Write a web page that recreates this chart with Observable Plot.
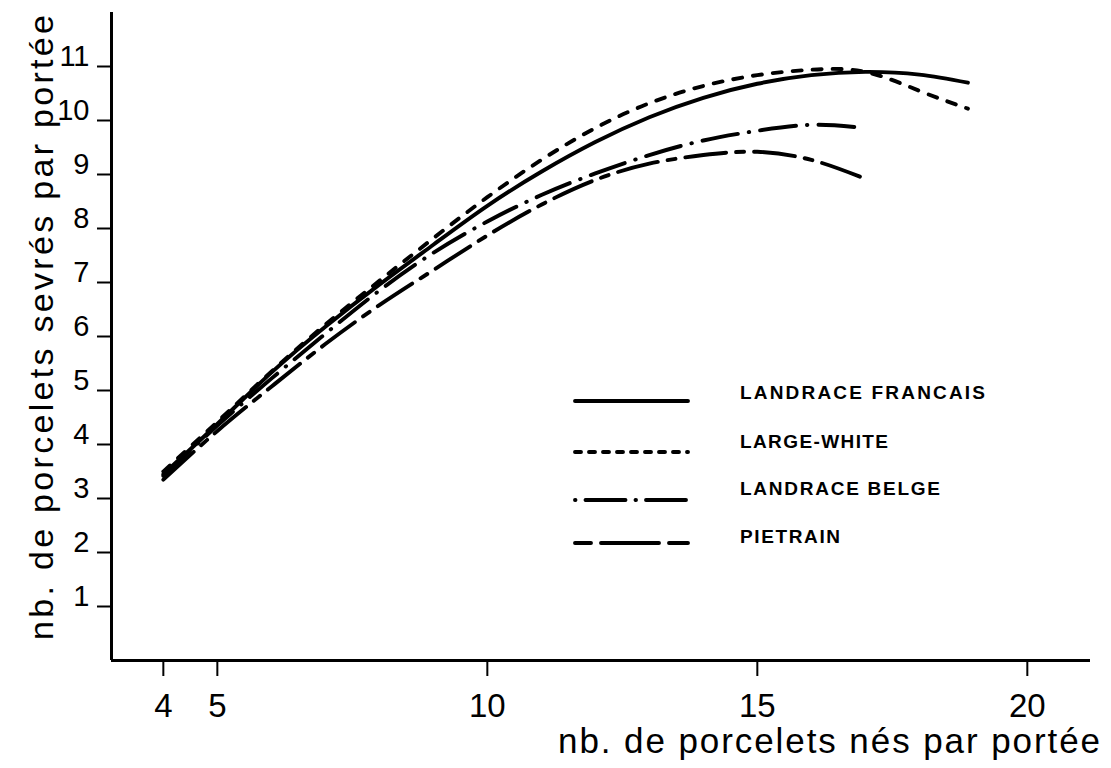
<!DOCTYPE html>
<html><head><meta charset="utf-8">
<script src="https://cdn.jsdelivr.net/npm/d3@7"></script>
<script src="https://cdn.jsdelivr.net/npm/@observablehq/plot@0.6"></script>
<style>
body{margin:0;background:#fff;}
#chart{position:relative;width:1111px;height:768px;}
</style>
</head><body><div id="chart"></div>
<script>
// ---- data ----
const breeds = ["LANDRACE FRANCAIS", "LARGE-WHITE", "LANDRACE BELGE", "PIETRAIN"];

const xLF = [4, 5, 6, 7, 8, 9, 10, 11, 12, 13, 14, 15, 16, 17, 18, 18.9];
const yLF = [3.45, 4.38, 5.33, 6.18, 6.96, 7.70, 8.42, 9.05, 9.60, 10.06, 10.42, 10.68, 10.84, 10.90, 10.85, 10.70];

const xLW = [4, 5, 6, 7, 8, 9, 10, 11, 12, 13, 14, 15, 16, 17, 18, 18.9];
const yLW = [3.50, 4.42, 5.35, 6.22, 7.03, 7.82, 8.58, 9.27, 9.86, 10.32, 10.64, 10.84, 10.94, 10.90, 10.55, 10.22];

const xLB = [4, 5, 6, 7, 8, 9, 10, 11, 12, 13, 14, 15, 16, 16.9];
const yLB = [3.42, 4.35, 5.22, 6.05, 6.85, 7.55, 8.13, 8.62, 9.02, 9.36, 9.63, 9.81, 9.92, 9.87];

const xPI = [4, 5, 6, 7, 8, 9, 10, 11, 12, 13, 14, 15, 16, 16.9];
const yPI = [3.35, 4.25, 5.07, 5.86, 6.58, 7.23, 7.87, 8.44, 8.90, 9.20, 9.36, 9.42, 9.27, 8.96];

const xTicks = [4, 5, 10, 15, 20];
const yTicks = [1, 2, 3, 4, 5, 6, 7, 8, 9, 10, 11];
const xDomain = [3.04, 21.17];
const yDomain = [0, 12];

const xTitle = "nb. de porcelets nés par portée";
const yTitle = "nb. de porcelets sevrés par portée";

// ---- styles ----
const lineDash = [null, "9,11", "36,11,0.5,11", "41,10,8,10"];
const legendDash = [null, "6,8", "0.5,10,40,10", "16,10,58,10,20"];

const series = [
  {name: breeds[0], xs: xLF, ys: yLF},
  {name: breeds[1], xs: xLW, ys: yLW},
  {name: breeds[2], xs: xLB, ys: yLB},
  {name: breeds[3], xs: xPI, ys: yPI}
];
const rows = [];
series.forEach(s => s.xs.forEach((x, i) => rows.push({breed: s.name, x, y: s.ys[i]})));

const FONT = "'Liberation Sans', Arial, sans-serif";

const chart = Plot.plot({
  width: 1111, height: 768,
  marginLeft: 111, marginRight: 21, marginTop: 12, marginBottom: 108,
  style: {background: "#fff", color: "#000", fontFamily: FONT},
  x: {domain: xDomain, axis: null, label: null},
  y: {domain: yDomain, axis: null, label: null},
  marks: [
    Plot.axisX(xTicks, {label: null, tickSize: 16, tickPadding: 17, fontSize: 33, strokeWidth: 2, tickFormat: d => String(d)}),
    Plot.axisY(yTicks, {label: null, tickSize: 14, strokeWidth: 2, tickFormat: () => ""}),
    Plot.axisY(yTicks, {label: null, tickSize: 0, tickPadding: 22, dy: -10, fontSize: 29, tickFormat: d => String(d)}),
    Plot.ruleY([yDomain[0]], {strokeWidth: 3}),
    Plot.ruleX([xDomain[0]], {strokeWidth: 3}),
    ...series.map((s, i) => Plot.line(rows.filter(r => r.breed === s.name), {
      x: "x", y: "y", curve: "natural", stroke: "#000", strokeWidth: 3.9,
      strokeDasharray: lineDash[i] || undefined, strokeLinecap: "round"
    }))
  ]
});

document.getElementById("chart").appendChild(chart);
const svg = d3.select(chart);

// axis titles
svg.append("text")
  .attr("x", 558).attr("y", 753)
  .attr("text-anchor", "start")
  .attr("font-family", FONT).attr("font-size", 35)
  .attr("textLength", 542).attr("lengthAdjust", "spacing")
  .attr("fill", "#000")
  .text(xTitle);

svg.append("text")
  .attr("transform", "translate(53,640) rotate(-90)")
  .attr("text-anchor", "start")
  .attr("font-family", FONT).attr("font-size", 34)
  .attr("textLength", 625).attr("lengthAdjust", "spacing")
  .attr("fill", "#000")
  .text(yTitle);

// legend (layout in pixels)
const legLineY = [401, 452, 500, 543];
const legTextY = [392, 441, 488, 536];
const legTextW = [245, 148, 200, 100];
const lg = svg.append("g");
breeds.forEach((b, i) => {
  lg.append("line")
    .attr("x1", 575).attr("x2", 688)
    .attr("y1", legLineY[i]).attr("y2", legLineY[i])
    .attr("stroke", "#000").attr("stroke-width", 3.9).attr("stroke-linecap", "round")
    .attr("stroke-dasharray", legendDash[i]);
  lg.append("text")
    .attr("x", 740).attr("y", legTextY[i]).attr("dy", "0.36em")
    .attr("text-anchor", "start")
    .attr("font-family", FONT).attr("font-size", 19).attr("font-weight", "bold")
    .attr("textLength", legTextW[i]).attr("lengthAdjust", "spacing")
    .attr("fill", "#000")
    .text(b);
});
</script>
</body></html>
